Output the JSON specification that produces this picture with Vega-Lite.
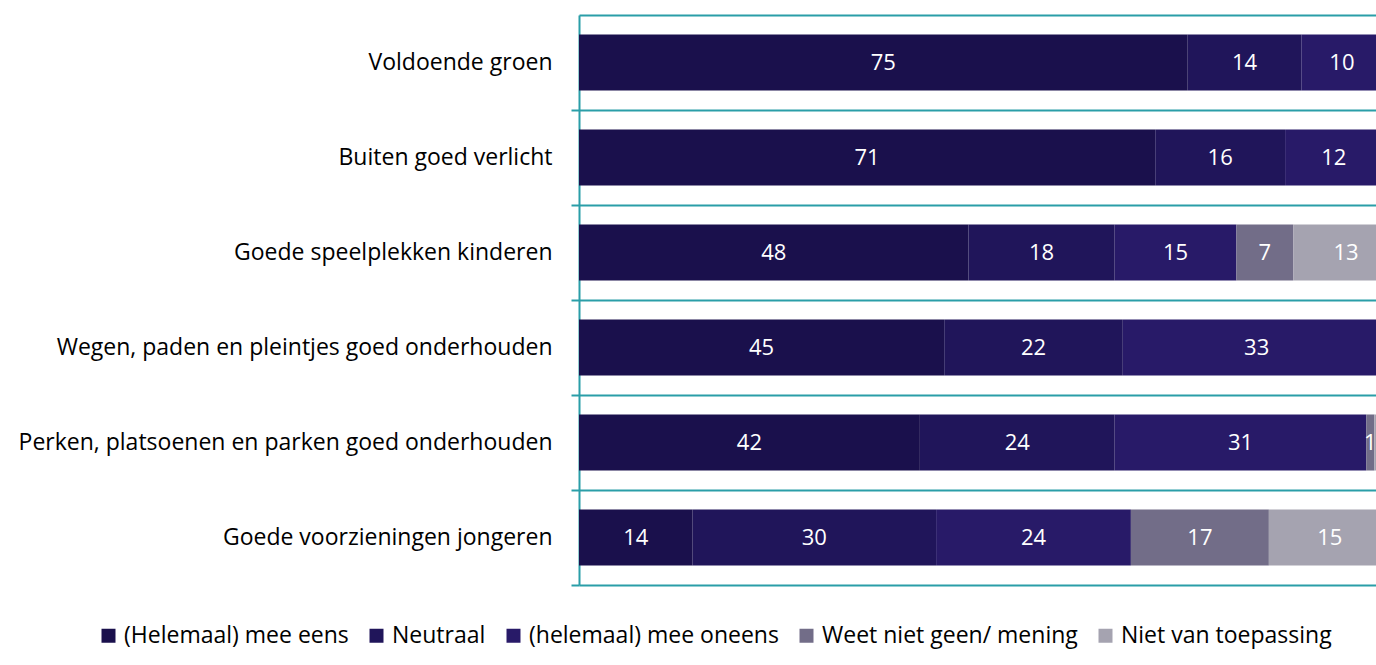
{
  "$schema": "https://vega.github.io/schema/vega-lite/v6.json",
  "autosize": {"type": "none"},
  "padding": {"left": 579, "top": 15, "right": 0, "bottom": 80},
  "width": 797,
  "height": 570,
  "background": "white",
  "config": {"view": {"stroke": null}, "font": "Open Sans"},
  "data": {"values": [
    {"item": "Voldoende groen", "cat": "(Helemaal) mee eens", "o": 1, "value": 75},
    {"item": "Voldoende groen", "cat": "Neutraal", "o": 2, "value": 14},
    {"item": "Voldoende groen", "cat": "(helemaal) mee oneens", "o": 3, "value": 10},
    {"item": "Voldoende groen", "cat": "Weet niet geen/ mening", "o": 4, "value": 1},
    {"item": "Voldoende groen", "cat": "Niet van toepassing", "o": 5, "value": 0},
    {"item": "Buiten goed verlicht", "cat": "(Helemaal) mee eens", "o": 1, "value": 71},
    {"item": "Buiten goed verlicht", "cat": "Neutraal", "o": 2, "value": 16},
    {"item": "Buiten goed verlicht", "cat": "(helemaal) mee oneens", "o": 3, "value": 12},
    {"item": "Buiten goed verlicht", "cat": "Weet niet geen/ mening", "o": 4, "value": 1},
    {"item": "Buiten goed verlicht", "cat": "Niet van toepassing", "o": 5, "value": 0},
    {"item": "Goede speelplekken kinderen", "cat": "(Helemaal) mee eens", "o": 1, "value": 48},
    {"item": "Goede speelplekken kinderen", "cat": "Neutraal", "o": 2, "value": 18},
    {"item": "Goede speelplekken kinderen", "cat": "(helemaal) mee oneens", "o": 3, "value": 15},
    {"item": "Goede speelplekken kinderen", "cat": "Weet niet geen/ mening", "o": 4, "value": 7},
    {"item": "Goede speelplekken kinderen", "cat": "Niet van toepassing", "o": 5, "value": 13},
    {"item": "Wegen, paden en pleintjes goed onderhouden", "cat": "(Helemaal) mee eens", "o": 1, "value": 45},
    {"item": "Wegen, paden en pleintjes goed onderhouden", "cat": "Neutraal", "o": 2, "value": 22},
    {"item": "Wegen, paden en pleintjes goed onderhouden", "cat": "(helemaal) mee oneens", "o": 3, "value": 33},
    {"item": "Wegen, paden en pleintjes goed onderhouden", "cat": "Weet niet geen/ mening", "o": 4, "value": 0},
    {"item": "Wegen, paden en pleintjes goed onderhouden", "cat": "Niet van toepassing", "o": 5, "value": 0},
    {"item": "Perken, platsoenen en parken goed onderhouden", "cat": "(Helemaal) mee eens", "o": 1, "value": 42},
    {"item": "Perken, platsoenen en parken goed onderhouden", "cat": "Neutraal", "o": 2, "value": 24},
    {"item": "Perken, platsoenen en parken goed onderhouden", "cat": "(helemaal) mee oneens", "o": 3, "value": 31},
    {"item": "Perken, platsoenen en parken goed onderhouden", "cat": "Weet niet geen/ mening", "o": 4, "value": 1},
    {"item": "Perken, platsoenen en parken goed onderhouden", "cat": "Niet van toepassing", "o": 5, "value": 3},
    {"item": "Goede voorzieningen jongeren", "cat": "(Helemaal) mee eens", "o": 1, "value": 14},
    {"item": "Goede voorzieningen jongeren", "cat": "Neutraal", "o": 2, "value": 30},
    {"item": "Goede voorzieningen jongeren", "cat": "(helemaal) mee oneens", "o": 3, "value": 24},
    {"item": "Goede voorzieningen jongeren", "cat": "Weet niet geen/ mening", "o": 4, "value": 17},
    {"item": "Goede voorzieningen jongeren", "cat": "Niet van toepassing", "o": 5, "value": 15}
  ]},
  "transform": [
    {"stack": "value", "groupby": ["item"], "sort": [{"field": "o", "order": "ascending"}], "as": ["x0", "x1"]},
    {"calculate": "(datum.x0 + datum.x1) / 2", "as": "mid"}
  ],
  "encoding": {
    "y": {
      "field": "item", "type": "nominal", "sort": null,
      "scale": {"paddingInner": 0.41, "paddingOuter": 0.205},
      "axis": {
        "title": null, "bandPosition": 1.3475,
        "grid": true, "gridColor": "#2a9ea8", "gridWidth": 2,
        "domainColor": "#2a9ea8", "domainWidth": 2,
        "tickColor": "#2a9ea8", "tickWidth": 2, "tickSize": 8,
        "labelFontSize": 23, "labelColor": "#000000", "labelPadding": 19, "labelLimit": 700,
        "labelFont": "Open Sans"
      }
    }
  },
  "layer": [
    {
      "mark": {"type": "bar", "clip": true},
      "encoding": {
        "x": {"field": "x0", "type": "quantitative", "scale": {"domain": [0, 98.2], "nice": false},
              "axis": {"orient": "top", "title": null, "labels": false, "ticks": false, "grid": false,
                       "domainColor": "#2a9ea8", "domainWidth": 2}},
        "x2": {"field": "x1"},
        "color": {
          "field": "cat", "type": "nominal",
          "scale": {
            "domain": ["(Helemaal) mee eens", "Neutraal", "(helemaal) mee oneens", "Weet niet geen/ mening", "Niet van toepassing"],
            "range": ["#1a104c", "#20155a", "#281a68", "#726d88", "#a5a3b0"]
          },
          "legend": {
            "orient": "none", "legendX": -482, "legendY": 609, "direction": "horizontal", "columns": 5,
            "title": null, "symbolType": "square", "symbolSize": 196, "symbolStrokeWidth": 0,
            "labelFontSize": 23, "labelColor": "#000000", "labelFont": "Open Sans",
            "columnPadding": 16, "symbolOffset": 0, "labelOffset": 4, "labelLimit": 400
          }
        }
      }
    },
    {
      "mark": {"type": "text", "clip": true, "color": "white", "fontSize": 22, "font": "Open Sans"},
      "encoding": {
        "x": {"field": "mid", "type": "quantitative"},
        "text": {"field": "value", "type": "quantitative"}
      }
    }
  ]
}
